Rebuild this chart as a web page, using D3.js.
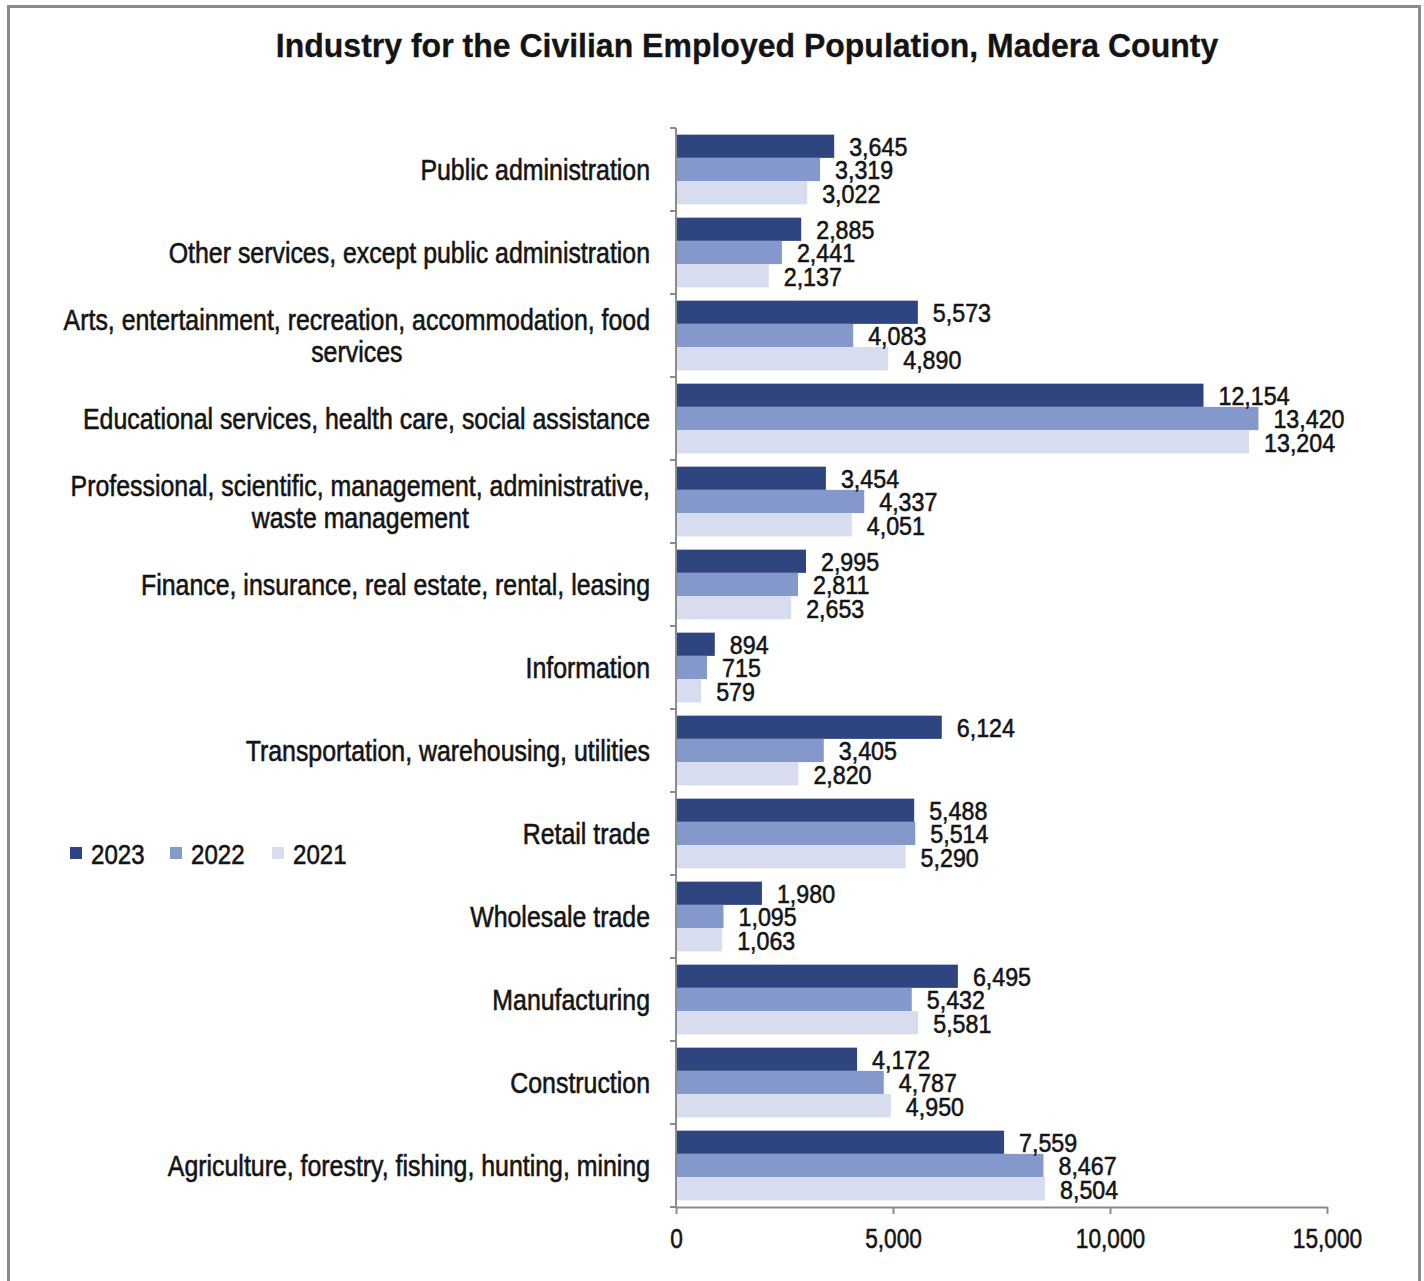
<!DOCTYPE html>
<html>
<head>
<meta charset="utf-8">
<script src="https://cdn.jsdelivr.net/npm/d3@7"></script>
<style>
  html, body { margin: 0; padding: 0; background: #fff; }
  svg { display: block; }
  text { font-family: "Liberation Sans", Arial, sans-serif; fill: #141414; }
</style>
</head>
<body>
<svg id="chart" width="1424" height="1281"></svg>
<script>
// Industry categories, top to bottom ("|" marks a line break)
const categories = [
  "Public administration",
  "Other services, except public administration",
  "Arts, entertainment, recreation, accommodation, food|services",
  "Educational services, health care, social assistance",
  "Professional, scientific, management, administrative,|waste management",
  "Finance, insurance, real estate, rental, leasing",
  "Information",
  "Transportation, warehousing, utilities",
  "Retail trade",
  "Wholesale trade",
  "Manufacturing",
  "Construction",
  "Agriculture, forestry, fishing, hunting, mining"
];
const years = ["2023", "2022", "2021"];
const values2023 = [3645, 2885, 5573, 12154, 3454, 2995, 894, 6124, 5488, 1980, 6495, 4172, 7559];
const values2022 = [3319, 2441, 4083, 13420, 4337, 2811, 715, 3405, 5514, 1095, 5432, 4787, 8467];
const values2021 = [3022, 2137, 4890, 13204, 4051, 2653, 579, 2820, 5290, 1063, 5581, 4950, 8504];
const xTicks = [0, 5000, 10000, 15000];
const colors = ["#2F4580", "#8598CC", "#D7DCEE"];

const series = [values2023, values2022, values2021];
const rows = categories.map((c, i) => ({
  category: c,
  values: years.map((y, k) => ({ year: y, value: series[k][i] }))
}));

const svg = d3.select("#chart");
const fmt = d3.format(",");

// Condensed text: a horizontally squeezed label anchored at (x, y)
function label(parent, x, y, str, o) {
  const g = parent.append("g")
    .attr("transform", `translate(${x},${y}) scale(${o.sx},1)`);
  const t = g.append("text")
    .attr("x", 0).attr("y", 0)
    .attr("text-anchor", o.anchor || "start")
    .attr("dominant-baseline", "central")
    .style("font-size", o.size + "px")
    .style("font-weight", o.weight || "normal")
    .attr("stroke", o.stroke ? "#141414" : null)
    .attr("stroke-width", o.stroke || null)
    .text(str);
  return t;
}

// Frame around the chart
svg.append("path")
  .attr("d", "M8.5,1290 L8.5,6.5 L1419.5,6.5 L1419.5,1290")
  .attr("fill", "none").attr("stroke", "#8a8a8a").attr("stroke-width", 3);

// Title
label(svg, 747, 46, "Industry for the Civilian Employed Population, Madera County",
  { size: 33, sx: 0.97, weight: "bold", anchor: "middle", stroke: 0.3 });

const x = d3.scaleLinear().domain([0, 15000]).range([676, 1327]);
const y0 = d3.scaleBand().domain(categories).range([128, 1207])
  .paddingInner(0.16).paddingOuter(0.08);
const y1 = d3.scaleBand().domain(years).range([0, y0.bandwidth()]);
const color = d3.scaleOrdinal().domain(years).range(colors);

// Bars
const groups = svg.append("g").selectAll("g").data(rows).join("g")
  .attr("transform", d => `translate(0,${y0(d.category)})`);

groups.selectAll("rect").data(d => d.values).join("rect")
  .attr("x", x(0))
  .attr("y", d => y1(d.year))
  .attr("width", d => x(d.value) - x(0))
  .attr("height", y1.bandwidth())
  .attr("fill", d => color(d.year));

// Value labels
groups.each(function (d) {
  const g = d3.select(this);
  d.values.forEach(v => {
    label(g, x(v.value) + 15, y1(v.year) + y1.bandwidth() / 2 + 1, fmt(v.value),
      { size: 25, sx: 0.93, stroke: 0.55 });
  });
});

// Y axis line and ticks at band boundaries
const axisColor = "#8c8c8c";
svg.append("line")
  .attr("x1", x(0)).attr("x2", x(0)).attr("y1", 128).attr("y2", 1207)
  .attr("stroke", axisColor).attr("stroke-width", 2);
const step = y0.step();
svg.append("g").selectAll("line").data(d3.range(categories.length + 1)).join("line")
  .attr("x1", x(0) - 6).attr("x2", x(0))
  .attr("y1", i => 128 + i * step).attr("y2", i => 128 + i * step)
  .attr("stroke", axisColor).attr("stroke-width", 2);

// Category labels (multi-line blocks are centred, block right-aligned)
const catG = svg.append("g");
const catSx = 0.83;
rows.forEach(d => {
  const lines = d.category.split("|");
  const cy = y0(d.category) + y0.bandwidth() / 2;
  const lh = 32;
  const tmp = lines.map(ln => label(catG, 0, 0, ln, { size: 30, sx: catSx, stroke: 0.6 }));
  const maxW = d3.max(tmp, n => n.node().getComputedTextLength()) * catSx;
  tmp.forEach(n => n.node().parentNode.remove());
  lines.forEach((ln, j) => {
    label(catG, 650 - maxW / 2, cy + (j - (lines.length - 1) / 2) * lh, ln,
      { size: 30, sx: catSx, anchor: "middle", stroke: 0.6 });
  });
});

// X axis
const xAxis = svg.append("g")
  .attr("transform", "translate(0,1207)")
  .call(d3.axisBottom(x).tickValues(xTicks).tickFormat(fmt).tickSize(7).tickSizeOuter(0));
xAxis.attr("font-family", null).attr("font-size", null);
xAxis.select(".domain").attr("stroke", axisColor).attr("stroke-width", 2);
xAxis.selectAll(".tick line").attr("stroke", axisColor).attr("stroke-width", 2);
xAxis.selectAll(".tick text")
  .attr("y", 31).attr("dy", null).attr("dominant-baseline", "central")
  .attr("transform", "scale(0.84,1)")
  .attr("fill", "#141414").attr("stroke", "#141414").attr("stroke-width", 0.55)
  .style("font-size", "27px");

// Legend
const legend = svg.append("g").attr("transform", "translate(70,853)");
const legX = [0, 100, 202];
years.forEach((yr, i) => {
  const g = legend.append("g").attr("transform", `translate(${legX[i]},0)`);
  g.append("rect").attr("x", 0).attr("y", -6).attr("width", 12).attr("height", 12).attr("fill", color(yr));
  label(g, 21, 1, yr, { size: 28, sx: 0.86, stroke: 0.6 });
});
</script>
</body>
</html>
